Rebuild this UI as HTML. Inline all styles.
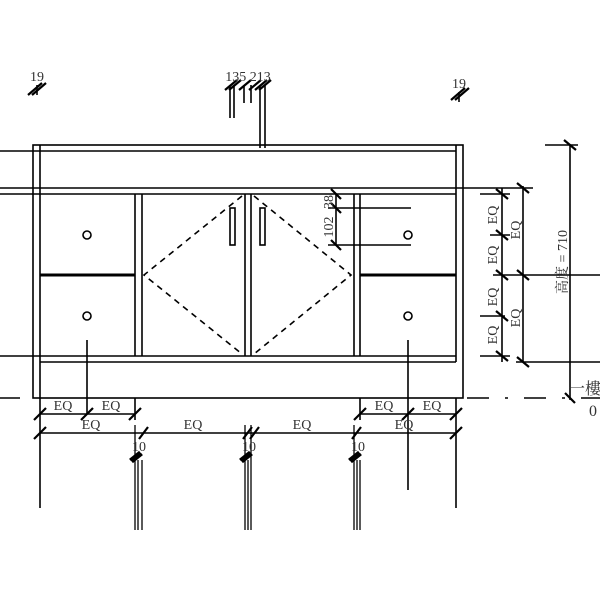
<!DOCTYPE html>
<html><head><style>html,body{margin:0;padding:0;background:#fff}svg{display:block}text{font-family:"Liberation Serif","Noto Serif CJK SC",serif;fill:#333}</style></head><body>
<svg width="600" height="600" viewBox="0 0 600 600" xmlns="http://www.w3.org/2000/svg">
<g stroke="#000" stroke-width="1.6" fill="none">
<rect x="33" y="145" width="430" height="253"/>
<line x1="40" y1="145" x2="40" y2="398"/>
<line x1="456" y1="145" x2="456" y2="362"/>
<line x1="0" y1="151" x2="456" y2="151"/>
<line x1="0" y1="188" x2="533" y2="188"/>
<line x1="0" y1="194" x2="456" y2="194"/>
<line x1="0" y1="356" x2="456" y2="356"/>
<line x1="40" y1="362" x2="456" y2="362"/>
<line x1="516" y1="362" x2="600" y2="362"/>
<line x1="0" y1="398" x2="20" y2="398"/>
<line x1="467" y1="398" x2="600" y2="398" stroke-dasharray="22,16,3,16"/>
<line x1="135" y1="194" x2="135" y2="356"/>
<line x1="142" y1="194" x2="142" y2="356"/>
<line x1="245" y1="194" x2="245" y2="356"/>
<line x1="251" y1="194" x2="251" y2="356"/>
<line x1="354" y1="194" x2="354" y2="356"/>
<line x1="360" y1="194" x2="360" y2="356"/>
<line x1="40" y1="275" x2="135" y2="275" stroke-width="3"/>
<line x1="360" y1="275" x2="456" y2="275" stroke-width="3"/>
<circle cx="87" cy="235" r="4"/><circle cx="87" cy="316" r="4"/>
<circle cx="408" cy="235" r="4"/><circle cx="408" cy="316" r="4"/>
<rect x="230" y="208" width="5" height="37"/><rect x="260" y="208" width="5" height="37"/>
<polyline points="242,196 144,275 242,354" stroke-dasharray="6,5"/>
<polyline points="254,196 351,275 254,354" stroke-dasharray="6,5"/>
<line x1="336" y1="194" x2="336" y2="245"/>
<line x1="328" y1="208" x2="411" y2="208"/>
<line x1="328" y1="245" x2="411" y2="245"/>
<line x1="502" y1="188" x2="502" y2="362"/>
<line x1="480" y1="194" x2="510" y2="194"/>
<line x1="490" y1="235" x2="510" y2="235"/>
<line x1="493" y1="275" x2="600" y2="275"/>
<line x1="480" y1="316" x2="505" y2="316"/>
<line x1="480" y1="356" x2="510" y2="356"/>
<line x1="523" y1="186" x2="523" y2="362"/>
<line x1="570" y1="145" x2="570" y2="400"/>
<line x1="545" y1="145" x2="578" y2="145"/>
<line x1="40" y1="414" x2="135" y2="414"/>
<line x1="360" y1="414" x2="456" y2="414"/>
<line x1="40" y1="433" x2="456" y2="433"/>
<line x1="40" y1="398" x2="40" y2="508"/>
<line x1="87" y1="340" x2="87" y2="414"/>
<line x1="135" y1="398" x2="135" y2="420"/>
<line x1="408" y1="340" x2="408" y2="490"/>
<line x1="456" y1="398" x2="456" y2="508"/>
<line x1="360" y1="398" x2="360" y2="420"/>
<g stroke-width="1.3">
<line x1="135" y1="425" x2="135" y2="530"/><line x1="138" y1="460" x2="138" y2="530"/><line x1="142" y1="460" x2="142" y2="530"/>
<line x1="245" y1="425" x2="245" y2="530"/><line x1="248" y1="460" x2="248" y2="530"/><line x1="251" y1="425" x2="251" y2="530"/>
<line x1="354" y1="425" x2="354" y2="530"/><line x1="357" y1="460" x2="357" y2="530"/><line x1="360" y1="460" x2="360" y2="530"/>
</g>
<line x1="230" y1="85" x2="230" y2="118"/><line x1="234" y1="85" x2="234" y2="118"/>
<line x1="244" y1="85" x2="244" y2="103"/><line x1="251" y1="85" x2="251" y2="103"/>
<line x1="260" y1="85" x2="260" y2="148"/><line x1="265" y1="85" x2="265" y2="148"/>
<line x1="37" y1="85" x2="37" y2="95"/><line x1="459" y1="92" x2="459" y2="102"/>
</g>
<g stroke="#000" stroke-width="2.2">
<path d="M28,95l14,-12M32,95l14,-12M225,90l12,-10M229,90l12,-10M239,90l12,-10M249,90l12,-10M255,90l12,-10M259,90l12,-10M451,100l14,-12M455,100l14,-12"/>
<path d="M331,189l10,10M331,203l10,10M331,240l10,10M496,189l12,10M496,230l12,10M496,270l12,10M496,311l12,10M496,351l12,10M517,183l12,10M517,270l12,10M517,357l12,10M564,140l12,10M565,393l10,10"/>
<path d="M34,420l12,-12M81,420l12,-12M129,420l12,-12M354,420l12,-12M402,420l12,-12M450,420l12,-12M34,439l12,-12M139,439l9,-12M243,439l9,-12M250,439l9,-12M352,439l9,-12M450,439l12,-12"/>
<path d="M130,460l10,-8M132,462l10,-8M240,460l10,-8M242,462l10,-8M349,460l10,-8M351,462l10,-8" stroke-width="3"/>
</g>
<g font-size="14" text-anchor="middle">
<text x="37" y="81">19</text><text x="248" y="81">135 213</text><text x="459" y="88">19</text>
<text x="63" y="410">EQ</text><text x="111" y="410">EQ</text><text x="384" y="410">EQ</text><text x="432" y="410">EQ</text>
<text x="91" y="429">EQ</text><text x="193" y="429">EQ</text><text x="302" y="429">EQ</text><text x="404" y="429">EQ</text>
<text x="139" y="451">10</text><text x="249" y="451">10</text><text x="358" y="451">10</text>
<text transform="translate(333,202) rotate(-90)">38</text>
<text transform="translate(333,227) rotate(-90)">102</text>
<text transform="translate(497,215) rotate(-90)">EQ</text>
<text transform="translate(497,255) rotate(-90)">EQ</text>
<text transform="translate(497,297) rotate(-90)">EQ</text>
<text transform="translate(497,335) rotate(-90)">EQ</text>
<text transform="translate(520,230) rotate(-90)">EQ</text>
<text transform="translate(520,318) rotate(-90)">EQ</text>
<text transform="translate(567,262) rotate(-90)">高度 = 710</text>
<text x="585" y="394" font-size="16">一樓</text><text x="593" y="416" font-size="16">0</text>
</g>
</svg>
</body></html>
